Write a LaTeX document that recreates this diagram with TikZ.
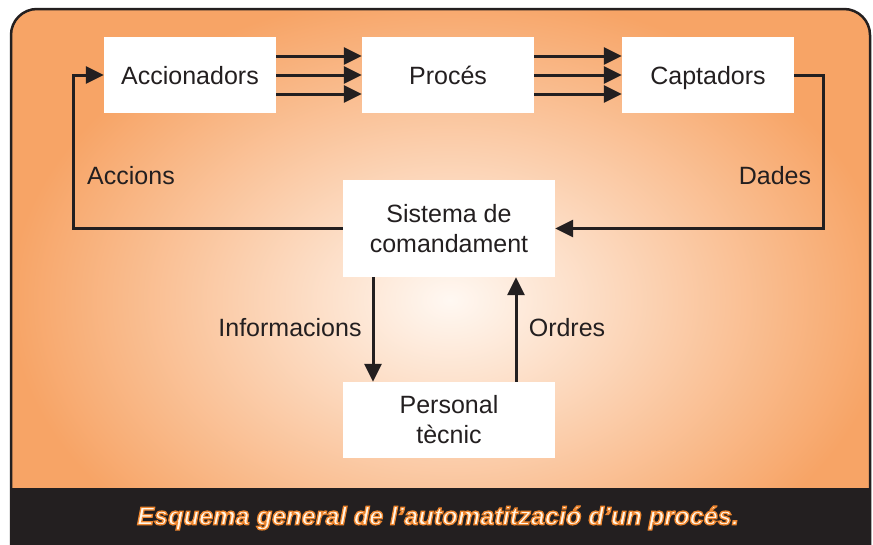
\documentclass[tikz,border=0pt]{standalone}
\usepackage{fontspec}
\setmainfont{Liberation Sans}
\usetikzlibrary{arrows.meta}

\definecolor{ink}{RGB}{35,31,32}
\definecolor{peach}{RGB}{247,164,102}
\definecolor{cream}{RGB}{255,248,242}
\definecolor{capfill}{RGB}{255,246,232}

% contorn taronja del peu (mode de traç del text)
\newcommand{\outlined}[1]{{\color{capfill}%
  \special{pdf:code 1.3 w 0.93 0.52 0.18 RG 2 Tr}#1\special{pdf:code 0 Tr}}}

\tikzset{
  block/.style={fill=white, minimum width=172pt, minimum height=76pt,
    inner sep=0pt, align=center, text=ink, font=\fontsize{25}{30}\selectfont},
  oneline/.style={text height=18pt, text depth=0pt},
  flow/.style={draw=ink, line width=3pt, -{Triangle[length=18pt,width=17pt]}},
  tag/.style={text=ink, font=\fontsize{25}{30}\selectfont, oneline},
  captext/.style={font=\fontsize{25.3}{30}\selectfont\bfseries\itshape},
}

\begin{document}
\begin{tikzpicture}[x=1pt, y=-1pt]
    \useasboundingbox (0,0) rectangle (873,544);

    % fons i franja del peu
    \begin{scope}
      \clip[rounded corners=26pt] (11,9) rectangle (870,620);
      \fill[peach] (0,0) rectangle (873,544);
      \shade[inner color=cream, outer color=peach]
        (450,300) ellipse [x radius=440pt, y radius=310pt];
      \fill[ink] (0,488) rectangle (873,640);
    \end{scope}
    \draw[ink, line width=2.5pt, rounded corners=26pt]
      (11,620) -- (11,9) -- (870,9) -- (870,620);

    \node[block, oneline] (acc)  at (190,75) {Accionadors};
    \node[block, oneline] (proc) at (448,75) {Procés};
    \node[block, oneline] (capt) at (708,75) {Captadors};
    \node[block, minimum width=212pt, minimum height=97pt] (sist) at (449,228.5)
      {Sistema de\\comandament};
    \node[block, minimum width=212pt] (pers) at (449,420) {Personal\\tècnic};

    \foreach \dy in {-19,0,19} {
      \draw[flow] ([yshift=\dy pt]acc.east) -- ([yshift=\dy pt]proc.west);
      \draw[flow] ([yshift=\dy pt]proc.east) -- ([yshift=\dy pt]capt.west);
    }

    \draw[flow] (capt.east) -- ++(29,0) |- (sist.east);
    \draw[flow] (sist.west) -- ++(-269,0) |- (acc.west);
    \draw[flow] ([xshift=-76pt]sist.south) -- ([xshift=-76pt]pers.north);
    \draw[flow] ([xshift=67pt]pers.north) -- ([xshift=67pt]sist.south);

    \node[tag] (accions) at (131,175) {Accions};
    \node[tag] (dades)   at (775,175) {Dades};
    \node[tag] (infos)   at (290,327) {Informacions};
    \node[tag] (ordres)  at (567,327) {Ordres};

    \node[captext] (peu) at (438,518)
      {\outlined{Esquema general de l’automatització d’un procés.}};
\end{tikzpicture}
\end{document}
